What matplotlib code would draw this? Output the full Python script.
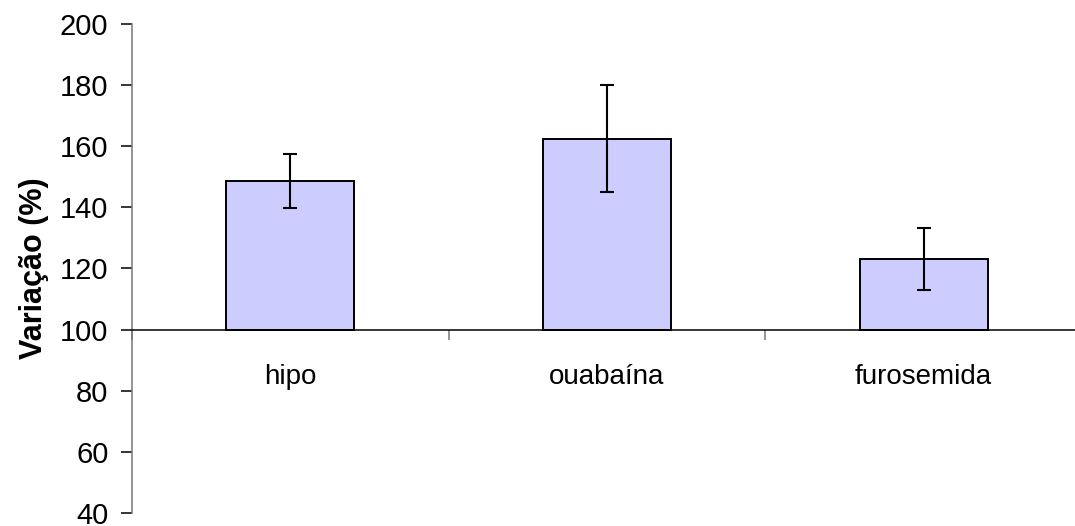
import matplotlib.pyplot as plt
import numpy as np

# data
categories = ['hipo', 'ouabaína', 'furosemida']
means = [148.7, 162.4, 123.2]
errors = [8.9, 17.5, 10.2]
baseline = 100

plt.rcParams['font.family'] = ['Liberation Sans', 'DejaVu Sans']

fig = plt.figure(figsize=(10.75, 5.26), dpi=100)
ax = fig.add_axes([132 / 1075, 1 - 513 / 526, 950 / 1075, 489 / 526])

x = np.arange(len(categories))
heights = [m - baseline for m in means]
ax.bar(x, heights, bottom=baseline, width=0.405, color='#CCCCFF',
       edgecolor='black', linewidth=1.4)
ax.errorbar(x, means, yerr=errors, fmt='none', ecolor='black',
            elinewidth=1.5, capsize=5.3, capthick=1.5)

ax.set_xlim(-0.5, len(categories) - 0.5)
ax.set_ylim(40, 200)
ax.set_yticks(range(40, 201, 20))

# category axis crosses at 100
ax.spines['bottom'].set_position(('data', baseline))
ax.spines['bottom'].set_color('black')
ax.spines['bottom'].set_linewidth(1.1)
ax.spines['left'].set_color('#777777')
ax.spines['left'].set_linewidth(1.1)
ax.spines['top'].set_visible(False)
ax.spines['right'].set_visible(False)

ax.set_xticks(np.arange(-0.5, len(categories), 1.0))
ax.set_xticklabels([])
ax.set_xticks(x, minor=True)
ax.set_xticklabels(categories, minor=True, fontsize=20)
ax.tick_params(axis='x', which='major', direction='out', length=7.5,
               width=1.1, color='#777777')
ax.tick_params(axis='x', which='minor', length=0, pad=25)
ax.tick_params(axis='y', direction='out', length=8, width=1.1,
               labelsize=21, pad=9)

ax.set_ylabel('Variação (%)', fontsize=22, fontweight='bold', labelpad=8)

fig.savefig('out.png', dpi=100)
